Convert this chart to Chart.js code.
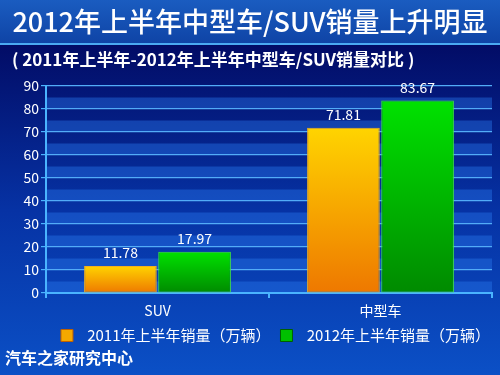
<!DOCTYPE html>
<html>
<head>
<meta charset="utf-8">
<script src="https://cdn.jsdelivr.net/npm/chart.js@4"></script>
<style>
  html, body { margin: 0; padding: 0; background: #020d68; }
  #wrap { width: 500px; height: 375px; position: relative; }
</style>
</head>
<body>
<div id="wrap"><canvas id="mainChart" width="500" height="375"></canvas></div>
<script>
const categories = ['SUV', '中型车'];
const sales2011 = [11.78, 71.81];
const sales2012 = [17.97, 83.67];
const seriesLabels = ['2011年上半年销量（万辆）', '2012年上半年销量（万辆）'];
const yMax = 90;
const yStep = 5;

const titleText = '2012年上半年中型车/SUV销量上升明显';
const subtitleText = '( 2011年上半年-2012年上半年中型车/SUV销量对比 )';
const footerText = '汽车之家研究中心';

const FONT = '"Noto Sans CJK SC", "Noto Sans", sans-serif';


function barFill(top, bottom) {
    return (ctx) => {
        const chart = ctx.chart;
        const y = chart.scales.y;
        if (!chart.chartArea || !y || ctx.parsed == null) return bottom;
        const y0 = y.getPixelForValue(ctx.parsed.y);
        const y1 = y.getPixelForValue(0);
        const g = chart.ctx.createLinearGradient(0, y0, 0, y1);
        g.addColorStop(0, top);
        g.addColorStop(1, bottom);
        return g;
    };
}

// background, title band, texts
const backdrop = {
    id: 'backdrop',
    beforeDraw(chart) {
        const c = chart.ctx;
        const w = chart.width, h = chart.height;
        c.save();
        let g = c.createLinearGradient(0, 45, 0, h);
        g.addColorStop(0, '#020c66');
        g.addColorStop(0.5, '#0632a4');
        g.addColorStop(1, '#0b50c6');
        c.fillStyle = g;
        c.fillRect(0, 0, w, h);

        g = c.createLinearGradient(0, 0, 0, 43);
        g.addColorStop(0, '#1a5cc0');
        g.addColorStop(1, '#0f44a6');
        c.fillStyle = g;
        c.fillRect(0, 0, w, 43);
        c.fillStyle = '#4aaaf2';
        c.fillRect(0, 43, w, 2);

        c.fillStyle = '#ffffff';
        c.textBaseline = 'middle';
        c.textAlign = 'center';
        c.font = '500 27px ' + FONT;
        c.fillText(titleText, 250, 22);
        c.textAlign = 'left';
        c.font = 'bold 17px ' + FONT;
        c.fillText(subtitleText, 12, 60);
        c.font = 'bold 16px ' + FONT;
        c.fillText(footerText, 5, 358);

        // alternating bands inside the plot, from the y scale
        const y = chart.scales.y;
        const area = chart.chartArea;
        if (y && area) {
            c.fillStyle = 'rgba(40, 120, 235, 0.42)';
            for (let v = 0; v < yMax; v += 10) {
                const top = y.getPixelForValue(v + yStep);
                const bot = y.getPixelForValue(v);
                c.fillRect(area.left, top, area.right - area.left, bot - top);
            }
        }
        c.restore();
    }
};

// numbers above bars
const valueLabels = {
    id: 'valueLabels',
    afterDatasetsDraw(chart) {
        const c = chart.ctx;
        c.save();
        c.fillStyle = '#ffffff';
        c.font = '14px ' + FONT;
        c.textAlign = 'center';
        c.textBaseline = 'bottom';
        chart.data.datasets.forEach((ds, i) => {
            chart.getDatasetMeta(i).data.forEach((bar, j) => {
                c.fillText(ds.data[j].toFixed(2), bar.x, bar.y - 6);
            });
        });
        c.restore();
    }
};

const ctx = document.getElementById('mainChart').getContext('2d');
const mainChart = new Chart(ctx, {
    type: 'bar',
    data: {
        labels: categories,
        datasets: [{
            label: seriesLabels[0],
            data: sales2011,
            backgroundColor: barFill('#ffd400', '#ee7800'),
            borderColor: '#f0b020',
            borderWidth: 1,
            borderSkipped: false,
            categoryPercentage: 0.665,
            barPercentage: 0.98
        }, {
            label: seriesLabels[1],
            data: sales2012,
            backgroundColor: barFill('#00e200', '#008a00'),
            borderColor: '#40e040',
            borderWidth: 1,
            borderSkipped: false,
            categoryPercentage: 0.665,
            barPercentage: 0.98
        }]
    },
    options: {
        responsive: false,
        animation: false,
        layout: {
            padding: { top: 86, right: 0, left: 0, bottom: 22 }
        },
        plugins: {
            title: { display: false },
            tooltip: { enabled: false },
            legend: {
                position: 'bottom',
                align: 'end',
                labels: {
                    color: '#ffffff',
                    font: { size: 15, family: FONT },
                    boxWidth: 12,
                    boxHeight: 12,
                    padding: 10,
                    generateLabels: () => [
                        { text: '  ' + seriesLabels[0], fillStyle: '#f5a800', strokeStyle: '#c06000', lineWidth: 1, fontColor: '#ffffff', datasetIndex: 0 },
                        { text: '  ' + seriesLabels[1], fillStyle: '#00c000', strokeStyle: '#006000', lineWidth: 1, fontColor: '#ffffff', datasetIndex: 1 }
                    ]
                }
            }
        },
        scales: {
            x: {
                border: { color: '#4ab4ff', width: 2 },
                grid: {
                    drawOnChartArea: false,
                    offset: true,
                    color: '#4ab4ff',
                    tickLength: 5,
                    lineWidth: 2
                },
                ticks: {
                    color: '#ffffff',
                    font: { size: 14, family: FONT },
                    padding: 4
                },
                afterFit: (s) => { s.height = 25; }
            },
            y: {
                min: 0,
                max: yMax,
                border: { color: '#4ab4ff', width: 2 },
                grid: {
                    color: '#52acf8',
                    lineWidth: 1.2,
                    tickLength: 5,
                    tickColor: (c) => (c.tick && c.tick.value % 10 === 0 ? '#4ab4ff' : 'rgba(0,0,0,0)')
                },
                ticks: {
                    stepSize: yStep,
                    color: '#ffffff',
                    font: { size: 14, family: FONT },
                    padding: 2,
                    callback: (v) => (v % 10 === 0 ? v : '')
                },
                afterFit: (s) => { s.width = 46; }
            },
            // empty strip that keeps the plot off the right edge
            gap: {
                type: 'linear',
                position: 'right',
                display: true,
                border: { display: false },
                grid: { display: false },
                ticks: { display: false },
                afterFit: (s) => { s.width = 8; }
            }
        }
    },
    plugins: [backdrop, valueLabels]
});

window.mainChart = mainChart;
</script>
</body>
</html>
